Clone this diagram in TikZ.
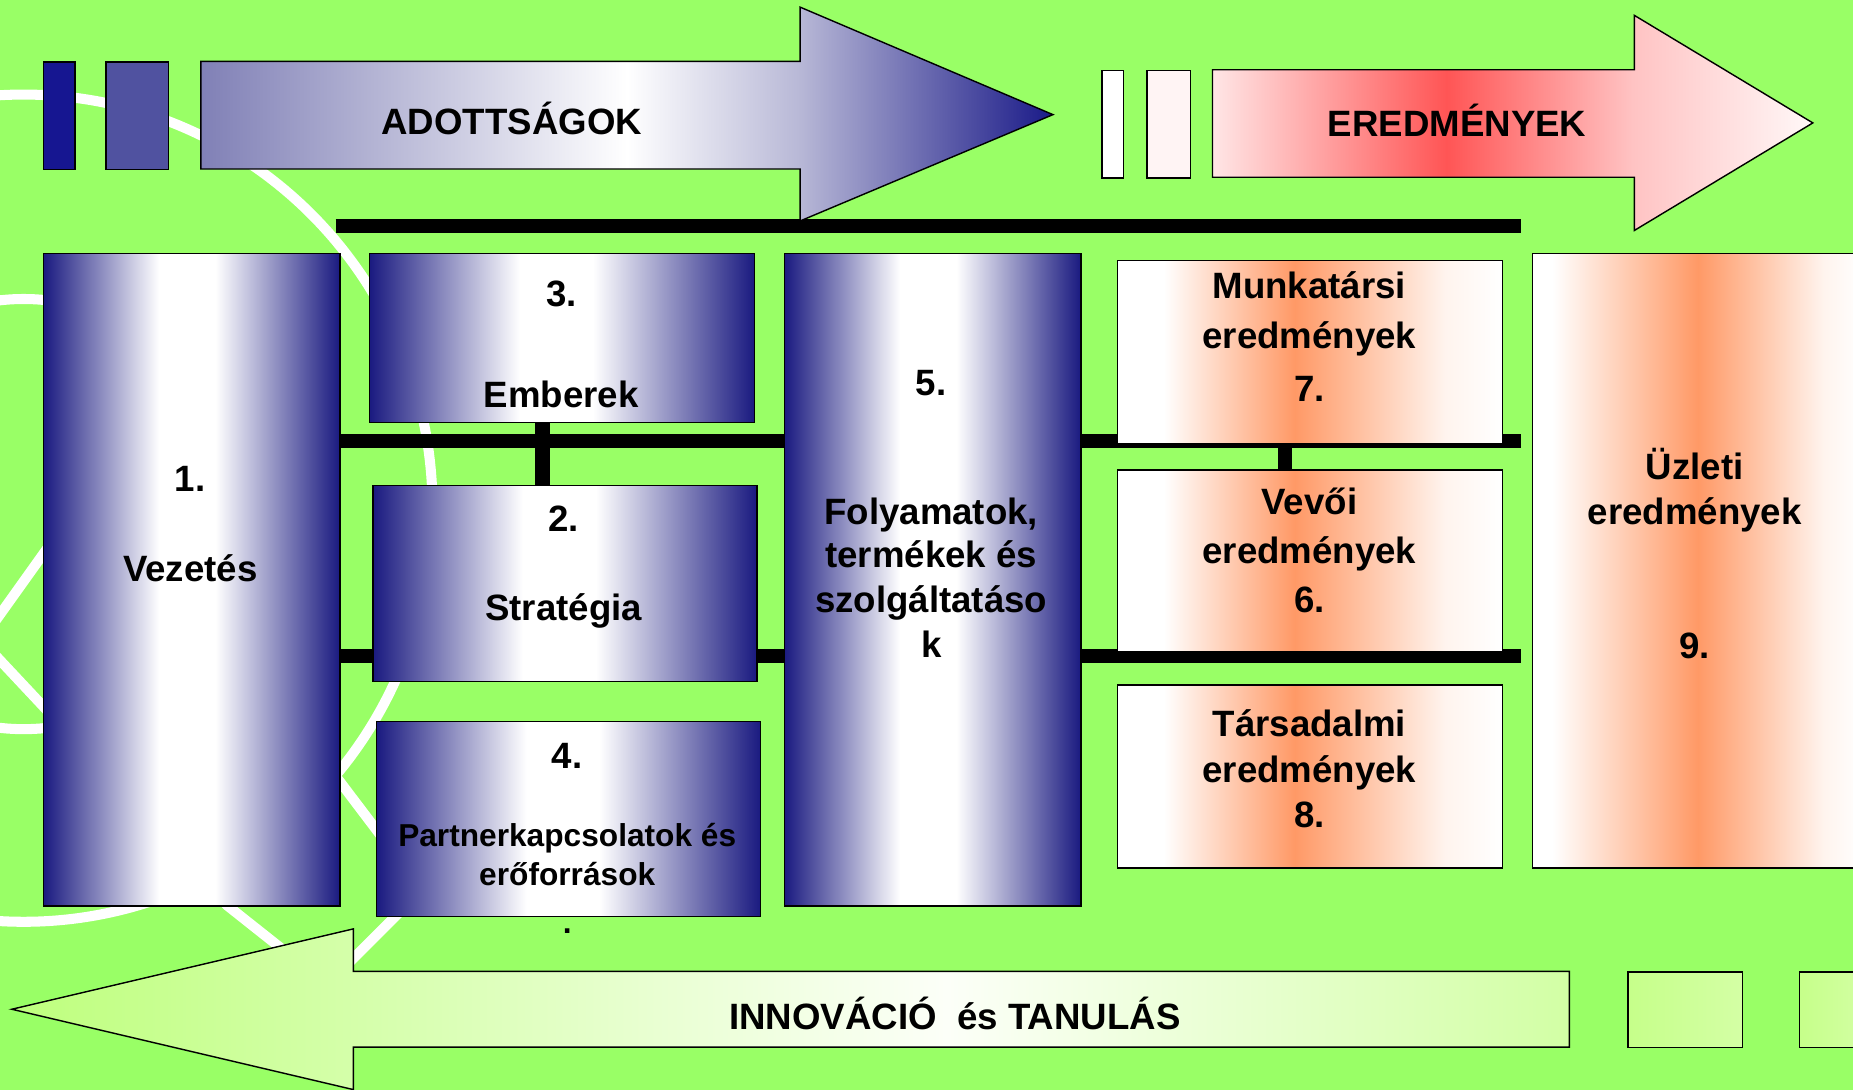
\documentclass[tikz,border=0pt]{standalone}
\usepackage{fontspec}
\setmainfont{Liberation Sans}
\usetikzlibrary{calc}
\definecolor{bggreen}{RGB}{153,255,102}
\definecolor{navy}{RGB}{26,26,128}
\definecolor{navytip}{RGB}{26,26,136}
\definecolor{bluel}{RGB}{128,128,182}
\definecolor{bluemid}{RGB}{185,185,215}
\definecolor{orng}{RGB}{255,153,102}
\definecolor{orpale}{RGB}{255,244,238}
\definecolor{redc}{RGB}{255,85,85}
\definecolor{pinkl}{RGB}{255,230,230}
\definecolor{pinkm}{RGB}{255,195,195}
\definecolor{pinkr}{RGB}{255,248,248}
\definecolor{grtip}{RGB}{190,255,125}
\definecolor{grwhite}{RGB}{252,255,248}
\definecolor{grright}{RGB}{210,255,165}
\definecolor{grboxa}{RGB}{198,255,138}
\definecolor{grboxb}{RGB}{212,255,165}
\definecolor{barone}{RGB}{22,22,145}
\definecolor{bartwo}{RGB}{80,82,160}
\definecolor{pinkbar}{RGB}{255,244,244}
\pgfdeclarehorizontalshading{navyshade}{100bp}{color(0bp)=(navy); color(25bp)=(navy); color(44.5bp)=(white); color(54bp)=(white); color(75bp)=(navy); color(100bp)=(navy)}
\pgfdeclarehorizontalshading{orangeshade}{100bp}{color(0bp)=(white); color(25bp)=(white); color(31bp)=(white); color(48bp)=(orng); color(67.5bp)=(orpale); color(75bp)=(white); color(100bp)=(white)}
\pgfdeclarehorizontalshading{orangewide}{100bp}{color(0bp)=(white); color(25bp)=(white); color(28bp)=(white); color(50bp)=(orng); color(69bp)=(orpale); color(75bp)=(white); color(100bp)=(white)}
\pgfdeclarehorizontalshading{bluearrow}{100bp}{color(0bp)=(bluel); color(25bp)=(bluel); color(50bp)=(white); color(60bp)=(bluemid); color(75bp)=(navytip); color(100bp)=(navytip)}
\pgfdeclarehorizontalshading{redarrow}{100bp}{color(0bp)=(pinkl); color(25bp)=(pinkl); color(44.5bp)=(redc); color(60bp)=(pinkm); color(75bp)=(pinkr); color(100bp)=(pinkr)}
\pgfdeclarehorizontalshading{greenarrow}{100bp}{color(0bp)=(grtip); color(25bp)=(grtip); color(55bp)=(grwhite); color(75bp)=(grright); color(100bp)=(grright)}
\pgfdeclarehorizontalshading{greenbox}{100bp}{color(0bp)=(grboxa); color(25bp)=(grboxa); color(75bp)=(grboxb); color(100bp)=(grboxb)}
\pgfdeclarelayer{back}
\pgfdeclarelayer{conn}
\pgfsetlayers{back,conn,main}
\begin{document}
\begin{tikzpicture}[x=1pt,y=-1pt,
  wline/.style={draw=white, line width=8.5pt, line join=round},
  blackbar/.style={draw=black, line width=12pt},
  boxbase/.style={rectangle, draw=black, line width=1.2pt, anchor=north west, inner sep=0pt},
  navybox/.style={boxbase, shade, shading=navyshade},
  orangebox/.style={boxbase, shade, shading=orangeshade},
  shape outline/.style={draw=black, line width=1.2pt, line join=miter},
  lbl/.style={font=\bfseries\fontsize{31}{37}\selectfont, anchor=base, inner sep=0pt, text=black},
  lblsmall/.style={font=\bfseries\fontsize{26.8}{32}\selectfont, anchor=base, inner sep=0pt, text=black}]
\useasboundingbox (0,0) rectangle (1568,922);
\begin{pgfonlayer}{back}
  \fill[bggreen] (0,0) rectangle (1568,922);
  \draw[wline] (20,430) ellipse [x radius=346pt, y radius=350pt];
  \draw[wline] (20,435) ellipse [x radius=180pt, y radius=182pt];
  \draw[wline] (-10,534) -- (60,436);
  \draw[wline] (-10,548) -- (35,596) -- (192,766) -- (250,812);
  \draw[wline] (282,654) -- (357,753) -- (295,815);
\end{pgfonlayer}

% top left bars and arrow
\node[boxbase, fill=barone, minimum width=27pt, minimum height=91pt] (bl1) at (36,52) {};
\node[boxbase, fill=bartwo, minimum width=53pt, minimum height=91pt] (bl2) at (89,52) {};
\path[shape outline, shade, shading=bluearrow] (170,52) -- (677,52) -- (677,6) -- (891,97) -- (677,187) -- (677,143) -- (170,143) -- cycle;
\node[lbl] (adott) at (433,114) {ADOTTSÁGOK};

% top right bars and arrow
\node[boxbase, fill=white, minimum width=18pt, minimum height=91pt] (wr1) at (932,59) {};
\node[boxbase, fill=pinkbar, minimum width=37pt, minimum height=91pt] (wr2) at (970,59) {};
\path[shape outline, shade, shading=redarrow] (1026,59) -- (1383,59) -- (1383,13) -- (1534,104) -- (1383,195) -- (1383,150) -- (1026,150) -- cycle;
\node[lbl] (ered) at (1233,115.5) {EREDMÉNYEK};

% bottom arrow and boxes
\path[shape outline, shade, shading=greenarrow] (1328,822) -- (299,822) -- (299,786) -- (10,854) -- (299,922) -- (299,886) -- (1328,886) -- cycle;
\node[lbl] (innov) at (808,871) {INNOVÁCIÓ\ \ és TANULÁS};
\node[boxbase, shade, shading=greenbox, minimum width=97pt, minimum height=64pt] (ga) at (1377,822) {};
\node[boxbase, shade, shading=greenbox, minimum width=60pt, minimum height=64pt] (gb) at (1522,822) {};

% main boxes
\node[navybox, minimum width=251pt, minimum height=552pt] (b1) at (36,214) {};
\node[navybox, minimum width=326pt, minimum height=143pt] (b3) at (312,214) {};
\node[navybox, minimum width=325pt, minimum height=166pt] (b2) at (315,410) {};
\node[navybox, minimum width=325pt, minimum height=165pt] (b4) at (318,610) {};
\node[navybox, minimum width=251pt, minimum height=552pt] (b5) at (663,214) {};
\node[orangebox, minimum width=326pt, minimum height=155pt] (b7) at (945,220) {};
\node[orangebox, minimum width=326pt, minimum height=154pt] (b6) at (945,397) {};
\node[orangebox, minimum width=326pt, minimum height=155pt] (b8) at (945,579) {};
\node[boxbase, shade, shading=orangewide, minimum width=280pt, minimum height=520pt] (b9) at (1296,214) {};

% connectors
\coordinate (yU) at (0,373);
\coordinate (yL) at (0,555);
\coordinate (xL) at (459,0);
\coordinate (xR) at (1087,0);
\coordinate (eU) at (1287,373);
\coordinate (eL) at (1287,555);
\coordinate (tA) at (284,191);
\coordinate (tB) at (1287,191);
\begin{pgfonlayer}{conn}
  \draw[blackbar] (tA) -- (tB);
  \draw[blackbar] (b1.east |- yU) -- (b5.west |- yU);
  \draw[blackbar] (b5.east |- yU) -- (eU);
  \draw[blackbar] (b1.east |- yL) -- (b5.west |- yL);
  \draw[blackbar] (b5.east |- yL) -- (eL);
  \draw[blackbar] (b3.south -| xL) -- (b2.north -| xL);
  \draw[blackbar] (b7.south -| xR) -- (b6.north -| xR);
\end{pgfonlayer}

% labels
\node[lbl] (l1a) at (161,416) {1.};
\node[lbl] (l1b) at (161,492) {Vezetés};
\node[lbl] (l3a) at (475,259.5) {3.};
\node[lbl] (l3b) at (475,345) {Emberek};
\node[lbl] (l2a) at (477,450) {2.};
\node[lbl] (l2b) at (477,525) {Stratégia};
\node[lbl] (l4a) at (480,650) {4.};
\node[lblsmall] (l4b) at (480,716) {Partnerkapcsolatok és};
\node[lblsmall] (l4c) at (480,749) {erőforrások};
\node[lblsmall] (l4d) at (480,790) {.};
\node[lbl] (l5a) at (788,335) {5.};
\node[lbl] (l5b) at (788,443.5) {Folyamatok,};
\node[lbl] (l5c) at (788,480) {termékek és};
\node[lbl] (l5d) at (788,518.7) {szolgáltatáso};
\node[lbl] (l5e) at (788,556.5) {k};
\node[lbl] (l7a) at (1108,252.6) {Munkatársi};
\node[lbl] (l7b) at (1108,294.8) {eredmények};
\node[lbl] (l7c) at (1108,339.6) {7.};
\node[lbl] (l6a) at (1108,435) {Vevői};
\node[lbl] (l6b) at (1108,476.5) {eredmények};
\node[lbl] (l6c) at (1108,518.7) {6.};
\node[lbl] (l8a) at (1108,623) {Társadalmi};
\node[lbl] (l8b) at (1108,662.5) {eredmények};
\node[lbl] (l8c) at (1108,700.3) {8.};
\node[lbl] (l9a) at (1434,406) {Üzleti};
\node[lbl] (l9b) at (1434,443.5) {eredmények};
\node[lbl] (l9c) at (1434,557) {9.};
\end{tikzpicture}
\end{document}
